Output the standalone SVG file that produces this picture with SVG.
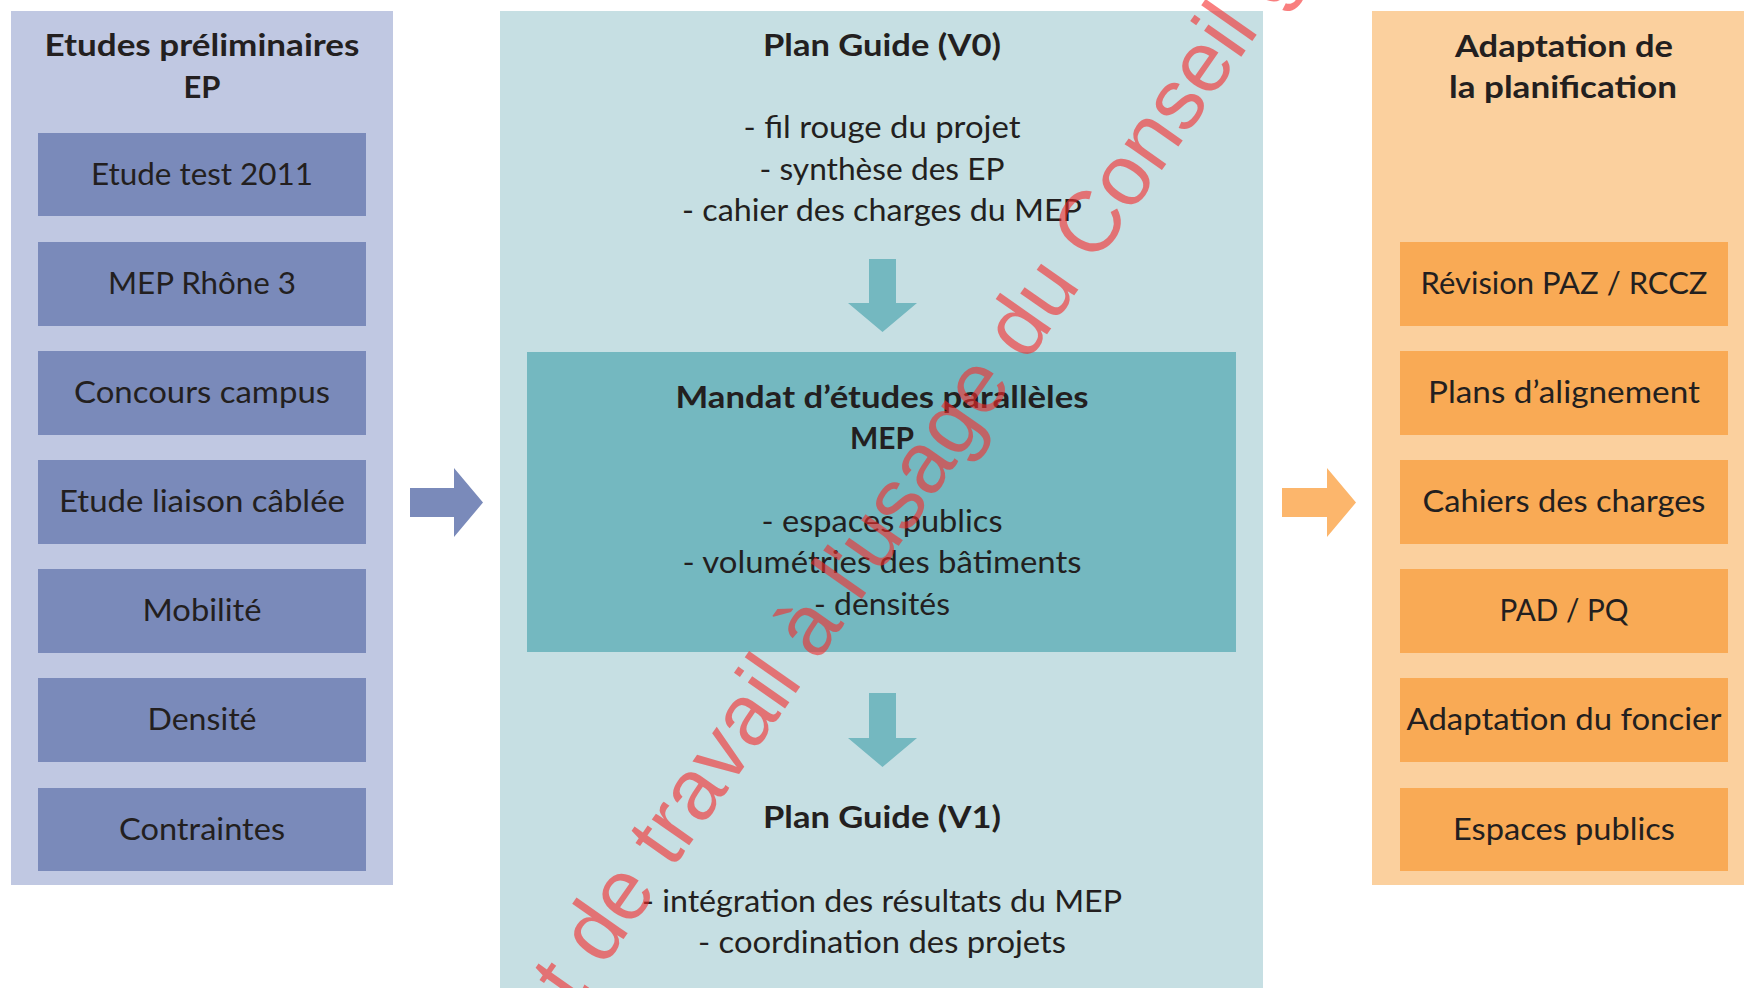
<svg xmlns="http://www.w3.org/2000/svg" width="1744" height="988" viewBox="0 0 1744 988">
<style>
.t{font-family:Lato,"Liberation Sans",sans-serif;fill:#231f20;text-anchor:middle}
.r{font-size:31px;font-weight:400}
.b{font-size:30px;font-weight:700}
.lp{fill:#c0c8e2}
.lb{fill:#7a8aba}
.mp{fill:#c6dfe3}
.mb{fill:#74b8c0}
.rp{fill:#fbd09e}
.rb{fill:#f9aa55}
.wm{font-family:"Liberation Sans",Arial,sans-serif;font-size:86px;fill:#f52a2a;fill-opacity:0.6}
</style>
<rect width="1744" height="988" fill="#ffffff"/>

<g id="panel-ep">
<rect class="lp" x="11" y="11" width="382" height="874"/>
<text class="t b" x="202" y="56" textLength="315" lengthAdjust="spacingAndGlyphs">Etudes préliminaires</text>
<text class="t b" x="202" y="98" textLength="37" lengthAdjust="spacingAndGlyphs">EP</text>
</g>
<g id="ep-1"><rect class="lb" x="38" y="133" width="328" height="83"/><text class="t r" x="202" y="185" textLength="222" lengthAdjust="spacingAndGlyphs">Etude test 2011</text></g>
<g id="ep-2"><rect class="lb" x="38" y="242" width="328" height="84"/><text class="t r" x="202" y="294" textLength="188" lengthAdjust="spacingAndGlyphs">MEP Rhône 3</text></g>
<g id="ep-3"><rect class="lb" x="38" y="351" width="328" height="84"/><text class="t r" x="202" y="403" textLength="256" lengthAdjust="spacingAndGlyphs">Concours campus</text></g>
<g id="ep-4"><rect class="lb" x="38" y="460" width="328" height="84"/><text class="t r" x="202" y="512" textLength="286" lengthAdjust="spacingAndGlyphs">Etude liaison câblée</text></g>
<g id="ep-5"><rect class="lb" x="38" y="569" width="328" height="84"/><text class="t r" x="202" y="621" textLength="119" lengthAdjust="spacingAndGlyphs">Mobilité</text></g>
<g id="ep-6"><rect class="lb" x="38" y="678" width="328" height="84"/><text class="t r" x="202" y="730" textLength="109" lengthAdjust="spacingAndGlyphs">Densité</text></g>
<g id="ep-7"><rect class="lb" x="38" y="788" width="328" height="83"/><text class="t r" x="202" y="840" textLength="166" lengthAdjust="spacingAndGlyphs">Contraintes</text></g>

<g id="panel-plan-guide">
<rect class="mp" x="500" y="11" width="763" height="977"/>
<text class="t b" x="882" y="56" textLength="238" lengthAdjust="spacingAndGlyphs">Plan Guide (V0)</text>
<text class="t r" x="882" y="138" textLength="277" lengthAdjust="spacingAndGlyphs">- fil rouge du projet</text>
<text class="t r" x="882" y="180" textLength="245" lengthAdjust="spacingAndGlyphs">- synthèse des EP</text>
<text class="t r" x="882" y="221" textLength="400" lengthAdjust="spacingAndGlyphs">- cahier des charges du MEP</text>
<text class="t b" x="882" y="828" textLength="238" lengthAdjust="spacingAndGlyphs">Plan Guide (V1)</text>
<text class="t r" x="882" y="912" textLength="480" lengthAdjust="spacingAndGlyphs">- intégration des résultats du MEP</text>
<text class="t r" x="882" y="953" textLength="368" lengthAdjust="spacingAndGlyphs">- coordination des projets</text>
</g>

<g id="mep">
<rect class="mb" x="527" y="352" width="709" height="300"/>
<text class="t b" x="882" y="408" textLength="413" lengthAdjust="spacingAndGlyphs">Mandat d’études parallèles</text>
<text class="t b" x="882" y="449" textLength="64" lengthAdjust="spacingAndGlyphs">MEP</text>
<text class="t r" x="882" y="532" textLength="241" lengthAdjust="spacingAndGlyphs">- espaces publics</text>
<text class="t r" x="882" y="573" textLength="399" lengthAdjust="spacingAndGlyphs">- volumétries des bâtiments</text>
<text class="t r" x="882" y="615" textLength="136" lengthAdjust="spacingAndGlyphs">- densités</text>
</g>

<g id="panel-adaptation">
<rect class="rp" x="1372" y="11" width="372" height="874"/>
<text class="t b" x="1564" y="57" textLength="218" lengthAdjust="spacingAndGlyphs">Adaptation de</text>
<text class="t b" x="1563" y="98" textLength="228" lengthAdjust="spacingAndGlyphs">la planification</text>
</g>
<g id="ad-1"><rect class="rb" x="1400" y="242" width="328" height="84"/><text class="t r" x="1564" y="294" textLength="287" lengthAdjust="spacingAndGlyphs">Révision PAZ / RCCZ</text></g>
<g id="ad-2"><rect class="rb" x="1400" y="351" width="328" height="84"/><text class="t r" x="1564" y="403" textLength="272" lengthAdjust="spacingAndGlyphs">Plans d’alignement</text></g>
<g id="ad-3"><rect class="rb" x="1400" y="460" width="328" height="84"/><text class="t r" x="1564" y="512" textLength="283" lengthAdjust="spacingAndGlyphs">Cahiers des charges</text></g>
<g id="ad-4"><rect class="rb" x="1400" y="569" width="328" height="84"/><text class="t r" x="1564" y="621" textLength="129" lengthAdjust="spacingAndGlyphs">PAD / PQ</text></g>
<g id="ad-5"><rect class="rb" x="1400" y="678" width="328" height="84"/><text class="t r" x="1564" y="730" textLength="315" lengthAdjust="spacingAndGlyphs">Adaptation du foncier</text></g>
<g id="ad-6"><rect class="rb" x="1400" y="788" width="328" height="83"/><text class="t r" x="1564" y="840" textLength="222" lengthAdjust="spacingAndGlyphs">Espaces publics</text></g>

<g id="connectors">
<polygon fill="#7a8aba" points="410,488 454,488 454,468 483,502.5 454,537 454,517 410,517"/>
<polygon fill="#fcb66c" points="1282,488 1327,488 1327,468 1356,502.5 1327,537 1327,517 1282,517"/>
<polygon fill="#74b8c0" points="869,259 896,259 896,303 917,303 882.5,332 848,303 869,303"/>
<polygon fill="#74b8c0" points="869,693 896,693 896,738 917,738 882.5,767 848,738 869,738"/>
</g>

<g id="watermark">
<text class="wm" transform="translate(576,1007) rotate(-55)">t de travail à l'usage du Conseil g</text>
</g>
</svg>
